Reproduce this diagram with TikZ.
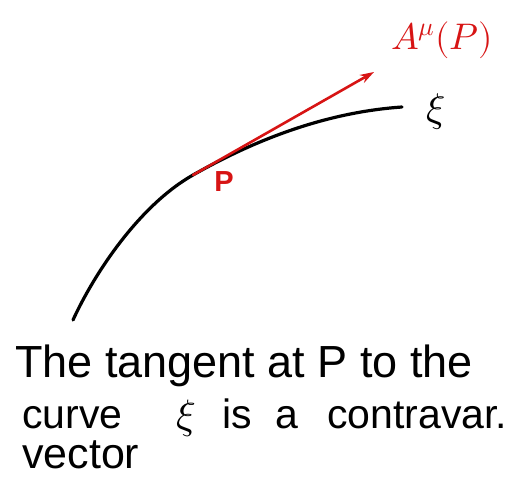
\documentclass[tikz,border=0pt]{standalone}
\usepackage{unicode-math}
\setmainfont{Liberation Sans}
\setmathfont{Latin Modern Math}
\usetikzlibrary{arrows.meta}
\definecolor{pen}{RGB}{215,20,20}
\tikzset{
  curveline/.style={line width=3.2pt, black, line cap=round},
  vecline/.style={line width=2.6pt, pen, line cap=round, -{Stealth[length=14pt,width=9pt]}},
  handtext/.style={anchor=base west, inner sep=0pt, font=\fontsize{#1}{#1}\selectfont},
}
\begin{document}
\begin{tikzpicture}[x=1pt,y=-1pt]
\useasboundingbox (0,0) rectangle (514,479);
% curve xi
\coordinate (c0) at (73,320);
\coordinate (P) at (193,175);
\coordinate (c1) at (402,107);
\draw[curveline] (c0) .. controls (95,272) and (140,205) .. (P)
                      .. controls (260,137) and (330,112) .. (c1);
% tangent vector
\coordinate (tip) at (374,72);
\draw[vecline] (P) -- (tip);
% labels
\node[pen, inner sep=0pt, font=\fontsize{37}{37}\selectfont] (lab) at (442,40) {$A^{\mu}(P)$};
\node[pen, inner sep=0pt, font=\fontsize{29}{29}\selectfont\bfseries] (Plab) at (224,182) {P};
\node[inner sep=0pt, font=\fontsize{40}{40}\selectfont] (xi) at (436,112) {$\xi$};
% caption
\node[handtext=45] (l1) at (15,377) {The tangent at P to the};
\node[handtext=41] (l2a) at (22,428) {curve};
\node[handtext=41] (l2b) at (176,428) {$\xi$};
\node[handtext=41] (l2c) at (222,428) {is};
\node[handtext=41] (l2d) at (275,428) {a};
\node[handtext=41] (l2e) at (327,428) {contravar.};
\node[handtext=43] (l3) at (22,468) {vector};
\end{tikzpicture}
\end{document}
